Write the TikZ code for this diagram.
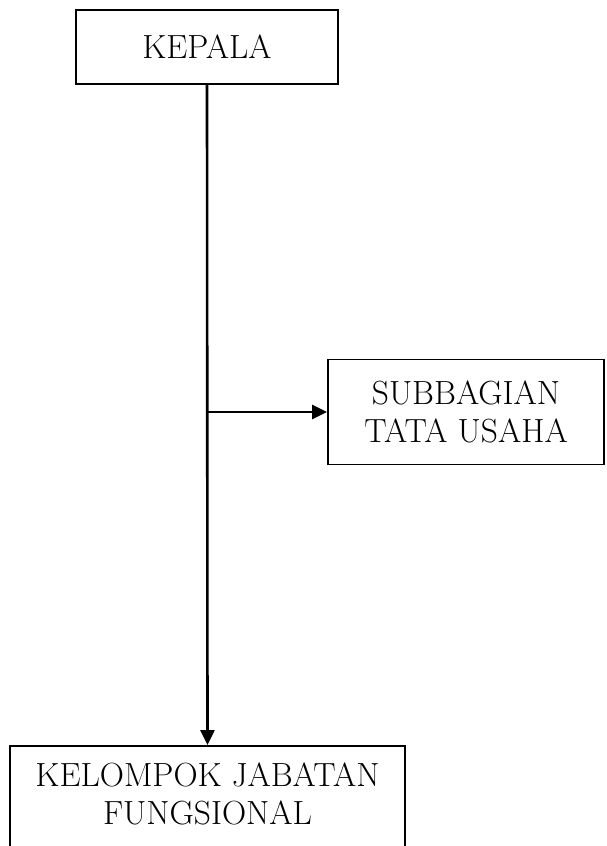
\documentclass[tikz,border=0pt]{standalone}
\usepackage{tikz}
\usetikzlibrary{arrows.meta}
\tikzstyle{unit}=[draw,line width=1.8pt,align=center,inner sep=0pt,font=\fontsize{33.5}{38}\selectfont]
\tikzstyle{unitlabel}=[align=center,inner sep=0pt,font=\fontsize{33.5}{38}\selectfont]
\tikzstyle{arrow} = [draw,line width=2.6pt,-{Triangle[length=15pt,width=14pt]}]

\begin{document}
\begin{tikzpicture}[x=1pt,y=1pt]
    \useasboundingbox (0,0) rectangle (606,-846);
    \node[unit,minimum width=262pt,minimum height=74pt] (kepala) at (207,-47) {KEPALA};
    \node[unit,minimum width=276pt,minimum height=105pt] (tu) at (466,-412) {SUBBAGIAN\\TATA USAHA};
    \node[unit,minimum width=395pt,minimum height=140pt,anchor=north] (kjf) at (207.5,-745) {};
    \node[unitlabel,anchor=north] (kjflabel) at ([yshift=-18pt]kjf.north) {KELOMPOK JABATAN\\FUNGSIONAL};
    \coordinate (branch) at (kepala.south |- tu.west);
    \path[arrow] (kepala.south) -- (kjf.north);
    \path[arrow] (branch) -- (tu.west);
\end{tikzpicture}
\end{document}
